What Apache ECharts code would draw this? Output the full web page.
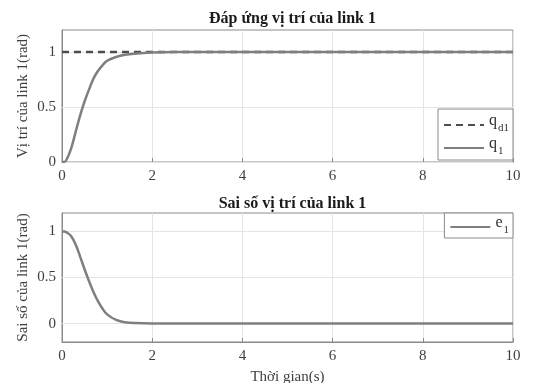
<!DOCTYPE html>
<html><head><meta charset="utf-8">
<script src="https://cdn.jsdelivr.net/npm/echarts@6/dist/echarts.min.js"></script>
<style>html,body{margin:0;padding:0;background:#fff}#c{width:542px;height:383px}</style>
</head><body><div id="c"></div>
<script>
// time points (s)
const tQ = [0, 0.05, 0.1, 0.2, 0.3, 0.4, 0.5, 0.6, 0.7, 0.8, 0.9, 1.0, 1.2, 1.4, 1.6, 2.0, 2.5, 4, 6, 8, 10];
// q1 position response (rad)
const q1 = [0, 0, 0.02, 0.12, 0.27, 0.42, 0.55, 0.66, 0.76, 0.83, 0.88, 0.92, 0.955, 0.975, 0.985, 0.995, 1, 1, 1, 1, 1];
// desired position qd1 (rad)
const tQd = [0, 10];
const qd1 = [1, 1];
// error e1 (rad)
const tE = [0, 0.05, 0.1, 0.2, 0.3, 0.4, 0.5, 0.6, 0.7, 0.8, 0.9, 1.0, 1.2, 1.4, 1.6, 2.0, 2.5, 4, 6, 8, 10];
const e1 = [1, 1, 0.99, 0.95, 0.86, 0.73, 0.59, 0.46, 0.34, 0.24, 0.16, 0.1, 0.04, 0.015, 0.005, 0, 0, 0, 0, 0, 0];
// tick labels
const xTicks = [0, 2, 4, 6, 8, 10];
const yTicks = [0, 0.5, 1];

const font = 'Liberation Serif';
const pair = (xs, ys) => xs.map((x, i) => [x, ys[i]]);
const gray = '#7f7f7f';
const axisColor = '#8a8a8a';
const gridColor = '#e4e4e4';

function xAx(grid, withName) {
  return {
    type: 'value', gridIndex: grid, min: xTicks[0], max: xTicks[xTicks.length - 1], interval: 2,
    axisLine: { show: true, onZero: false, lineStyle: { color: axisColor } },
    axisTick: { show: true, inside: true, length: 4, lineStyle: { color: axisColor } },
    axisLabel: { color: '#404040', fontFamily: font, fontSize: 15, margin: 7 },
    splitLine: { show: true, lineStyle: { color: gridColor } },
    name: withName ? 'Thời gian(s)' : '', nameLocation: 'middle', nameGap: 28, nameMoveOverlap: false,
    nameTextStyle: { color: '#404040', fontFamily: font, fontSize: 15 }
  };
}
function yAx(grid, min, name) {
  return {
    type: 'value', gridIndex: grid, min: min, max: 1.2, interval: 0.1,
    axisLine: { show: true, onZero: false, lineStyle: { color: axisColor } },
    axisTick: { show: true, inside: true, length: 4, customValues: yTicks, lineStyle: { color: axisColor } },
    axisLabel: { color: '#404040', fontFamily: font, fontSize: 15, margin: 6, customValues: yTicks },
    splitLine: { show: false },
    name: name, nameLocation: 'middle', nameGap: 31, nameMoveOverlap: false,
    nameTextStyle: { color: '#404040', fontFamily: font, fontSize: 15 }
  };
}
const gridMarks = {
  silent: true, symbol: ['none', 'none'], z: 1, animation: false,
  label: { show: false }, emphasis: { disabled: true },
  lineStyle: { color: gridColor, width: 1, type: 'solid' },
  data: yTicks.map(v => ({ yAxis: v }))
};
const rich = {
  a: { fontFamily: font, fontSize: 16, color: '#303030', lineHeight: 18, padding: [0, 0, 5, 0], verticalAlign: 'bottom' },
  b: { fontFamily: font, fontSize: 11, color: '#303030', lineHeight: 12, padding: [0, 0, 0, 1], verticalAlign: 'bottom' }
};
const names = { qd1: '{a|q}{b|d1}', q1: '{a|q}{b|1}', e1: '{a|e}{b|1}' };

const chart = echarts.init(document.getElementById('c'), null, { renderer: 'canvas' });
chart.setOption({
  animation: false,
  backgroundColor: '#fff',
  title: [
    { text: 'Đáp ứng vị trí của link 1', left: 287.5, textAlign: 'center', top: 6,
      textStyle: { fontFamily: font, fontSize: 16, fontWeight: 'bold', color: '#1a1a1a' } },
    { text: 'Sai số vị trí của link 1', left: 287.5, textAlign: 'center', top: 191,
      textStyle: { fontFamily: font, fontSize: 16, fontWeight: 'bold', color: '#1a1a1a' } }
  ],
  grid: [
    { left: 62, right: 29, top: 30, height: 132, show: true, borderColor: axisColor, borderWidth: 1, outerBoundsMode: 'none', containLabel: false },
    { left: 62, right: 29, top: 213, height: 129, show: true, borderColor: axisColor, borderWidth: 1, outerBoundsMode: 'none', containLabel: false }
  ],
  xAxis: [xAx(0, false), xAx(1, true)],
  yAxis: [yAx(0, 0, 'Vị trí của link 1(rad)'), yAx(1, -0.2, 'Sai số của link 1(rad)')],
  legend: [
    { data: ['qd1', 'q1'], orient: 'vertical', right: 29, top: 109, itemWidth: 40, itemHeight: 10, itemGap: 2,
      padding: [4, 4, 3, 5], borderColor: axisColor, borderWidth: 1, backgroundColor: '#fff', borderRadius: 0,
      itemStyle: { opacity: 0 },
      formatter: n => names[n], textStyle: { rich: rich } },
    { data: ['e1'], orient: 'vertical', right: 29, top: 213, itemWidth: 40, itemHeight: 10,
      padding: [2, 4, 2, 5], borderColor: axisColor, borderWidth: 1, backgroundColor: '#fff', borderRadius: 0,
      itemStyle: { opacity: 0 },
      formatter: n => names[n], textStyle: { rich: rich } }
  ],
  series: [
    { name: 'qd1', type: 'line', xAxisIndex: 0, yAxisIndex: 0, data: pair(tQd, qd1), showSymbol: false, symbol: 'none', z: 2,
      lineStyle: { color: '#4d4d4d', width: 2.5, type: [7, 5] }, itemStyle: { color: '#4d4d4d' } },
    { name: 'q1', type: 'line', xAxisIndex: 0, yAxisIndex: 0, data: pair(tQ, q1), showSymbol: false, symbol: 'none', smooth: 0.4, z: 3,
      lineStyle: { color: gray, width: 2.5 }, itemStyle: { color: gray }, markLine: gridMarks },
    { name: 'e1', type: 'line', xAxisIndex: 1, yAxisIndex: 1, data: pair(tE, e1), showSymbol: false, symbol: 'none', smooth: 0.4, z: 3,
      lineStyle: { color: gray, width: 2.5 }, itemStyle: { color: gray }, markLine: gridMarks }
  ]
});
</script></body></html>
